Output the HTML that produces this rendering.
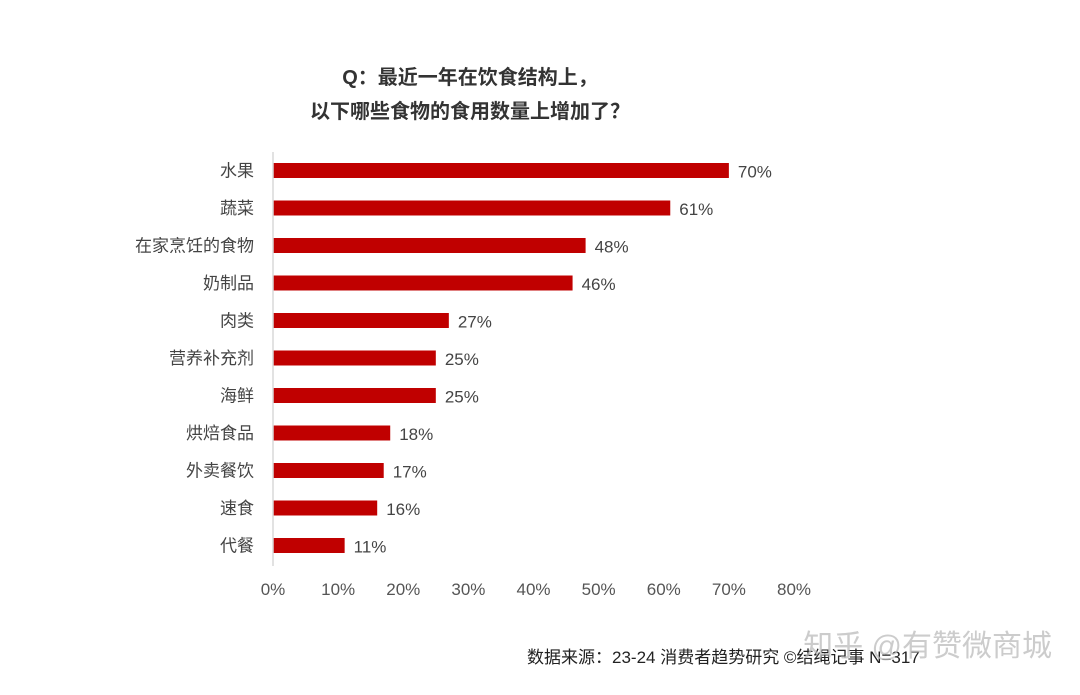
<!DOCTYPE html>
<html><head><meta charset="utf-8"><style>
body{margin:0;background:#fff;width:1080px;height:690px;overflow:hidden;font-family:"Liberation Sans","Noto Sans CJK SC",sans-serif;}
</style></head><body>
<svg width="1080" height="690" xmlns="http://www.w3.org/2000/svg">
<g font-family="Liberation Sans, Noto Sans CJK SC, sans-serif">
<text x="470" y="84" text-anchor="middle" font-size="20" fill="#333" font-weight="bold">Q：最近一年在饮食结构上，</text>
<text x="470" y="118" text-anchor="middle" font-size="20" fill="#333" font-weight="bold">以下哪些食物的食用数量上增加了？</text>
<g id="bars"></g>
<line x1="273" y1="152" x2="273" y2="566" stroke="#d9d9d9" stroke-width="1.5"/>
<g id="ticks"></g>
<text x="527" y="663" font-size="17" fill="#222">数据来源：23-24 消费者趋势研究 ©结绳记事 N=317</text>
<text x="1052" y="656" text-anchor="end" font-size="30" fill="#bbb" opacity="0.75">知乎 @有赞微商城</text>
</g>
</svg>
<script>
const categories=["水果","蔬菜","在家烹饪的食物","奶制品","肉类","营养补充剂","海鲜","烘焙食品","外卖餐饮","速食","代餐"];
const values=[70,61,48,46,27,25,25,18,17,16,11];
const tickValues=[0,10,20,30,40,50,60,70,80];
const NS="http://www.w3.org/2000/svg";
const x=v=>273+v*6.5125;
const y=i=>170.5+i*37.5;
const bars=document.getElementById('bars');
function mk(tag,attrs,parent,txt){const e=document.createElementNS(NS,tag);for(const k in attrs)e.setAttribute(k,attrs[k]);if(txt!=null)e.textContent=txt;parent.appendChild(e);return e;}
categories.forEach((c,i)=>{
 const r=mk('rect',{x:x(0),y:y(i)-7.5,width:x(values[i])-x(0),height:15,fill:'#c00000'},bars);
 
 
 const l=mk('text',{x:254,y:y(i)+6,'text-anchor':'end','font-size':17,fill:'#444'},bars,c);
 
 
 const v=mk('text',{x:x(values[i])+9,y:y(i)+7,'font-size':17,fill:'#444'},bars,values[i]+'%');
 
 
});
const ticks=document.getElementById('ticks');
tickValues.forEach(t=>{
 const e=mk('text',{x:x(t),y:595,'text-anchor':'middle','font-size':17,fill:'#555'},ticks,t+'%');
 
 
});
</script>
</body></html>
